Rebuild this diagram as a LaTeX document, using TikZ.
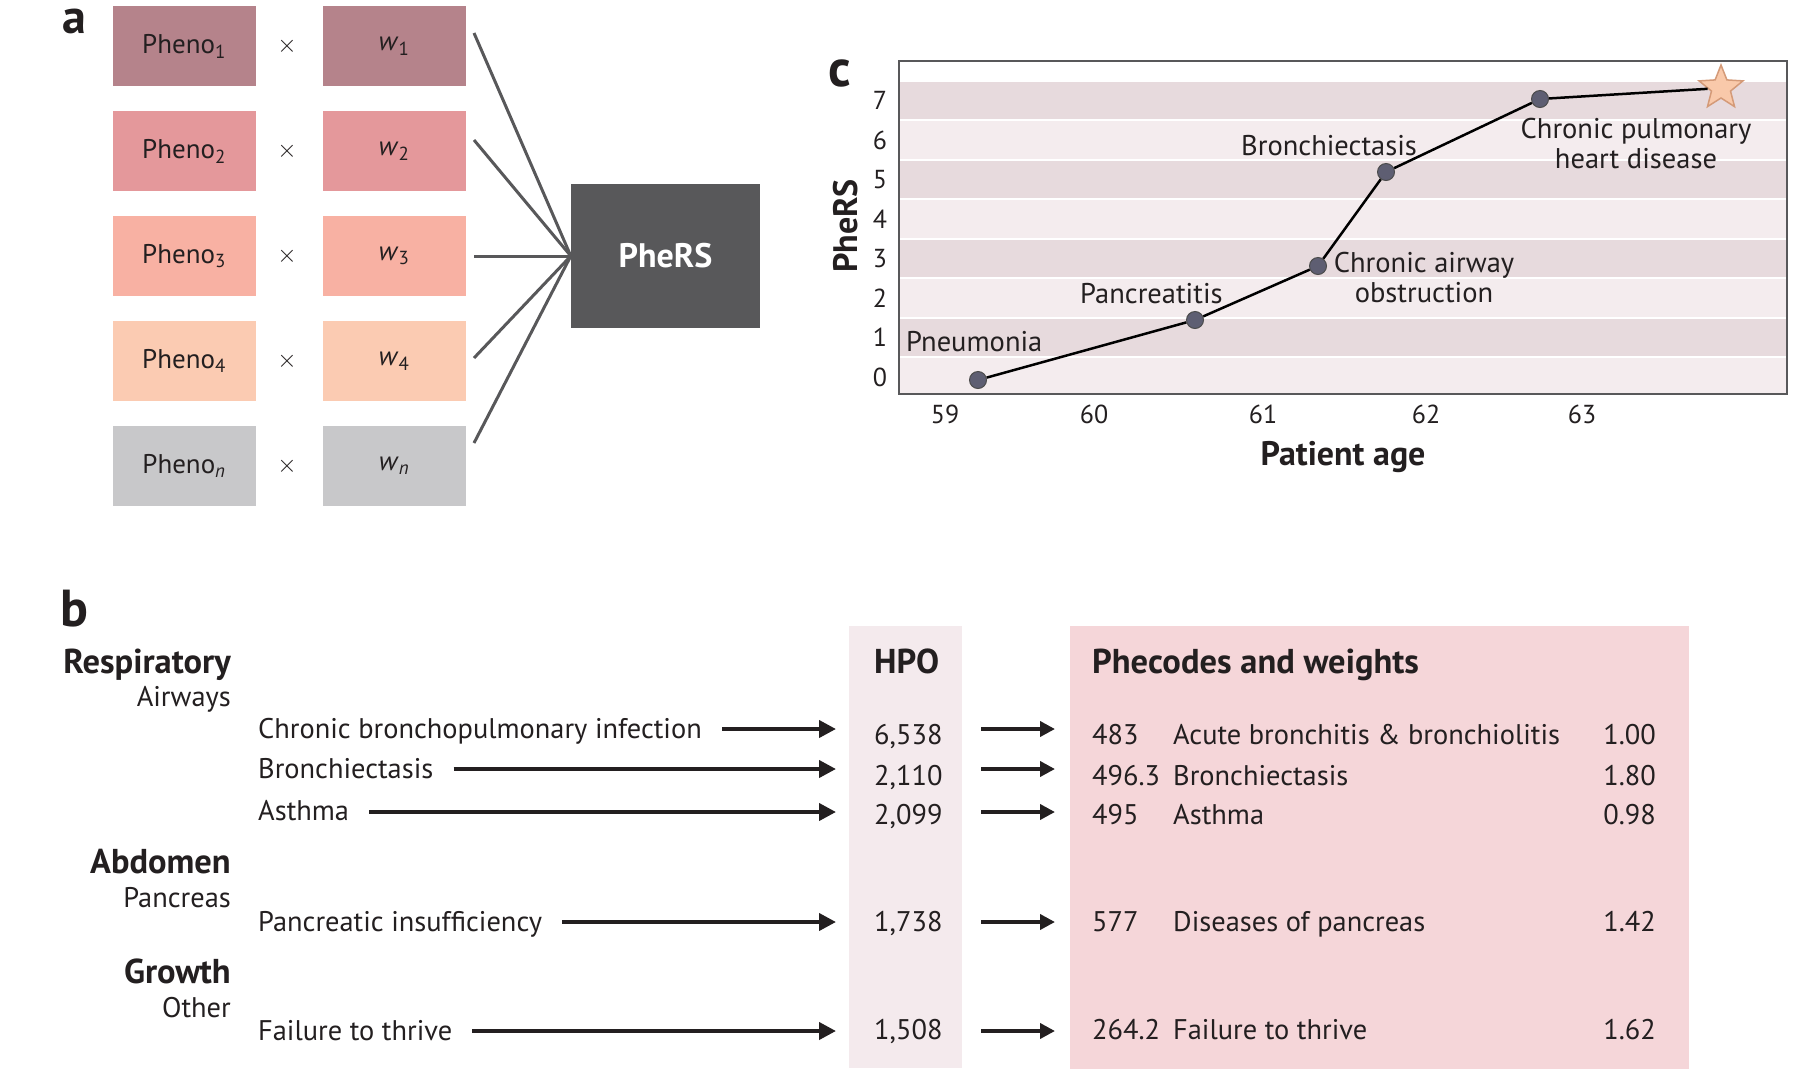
\documentclass[tikz,border=0pt]{standalone}
\usepackage{fontspec}
\setmainfont{PT Sans}
\usetikzlibrary{shapes.geometric,arrows.meta,calc}
\definecolor{ink}{HTML}{231F20}
\definecolor{rowA}{HTML}{B5838B}
\definecolor{rowB}{HTML}{E4989B}
\definecolor{rowC}{HTML}{F8B1A3}
\definecolor{rowD}{HTML}{FBCBB2}
\definecolor{rowE}{HTML}{C8C8CA}
\definecolor{pgray}{HTML}{58585A}
\definecolor{bandD}{HTML}{E7DADD}
\definecolor{bandL}{HTML}{F4ECEE}
\definecolor{hpofill}{HTML}{F4EAED}
\definecolor{phefill}{HTML}{F5D6D9}
\definecolor{dotfill}{HTML}{5E5E72}
\definecolor{starfill}{HTML}{F9C9AA}
\definecolor{stardraw}{HTML}{D49A78}
\begin{document}
\begin{tikzpicture}[x=1pt,y=-1pt,
  every node/.style={text=ink},
  tbox/.style={rectangle,minimum width=143pt,minimum height=80pt,inner sep=0pt,font=\fontsize{27}{31}\selectfont},
  times/.style={font=\fontsize{30}{34}\selectfont},
  fan/.style={draw=pgray,line width=3pt},
  panel/.style={font=\fontsize{52}{56}\selectfont\bfseries,inner sep=0pt},
  lbl/.style={font=\fontsize{28.5}{31}\selectfont,inner sep=0pt},
  tick/.style={font=\fontsize{26}{30}\selectfont,inner sep=0pt},
  axt/.style={font=\fontsize{34}{37}\selectfont\bfseries,inner sep=0pt},
  dot/.style={circle,minimum size=17pt,inner sep=0pt,fill=dotfill,draw=black!70,line width=1pt},
  btxt/.style={font=\fontsize{28.4}{33}\selectfont,inner sep=0pt},
  bhead/.style={font=\fontsize{34.5}{37}\selectfont\bfseries,inner sep=0pt},
  arr/.style={draw=ink,line width=4pt,-{Triangle[length=17pt,width=17pt]}},
  arrs/.style={draw=ink,line width=4pt,-{Triangle[length=15pt,width=15pt]}}
]
\useasboundingbox (0,0) rectangle (1800,1077);

% ---------------- panel a ----------------
\node[panel,anchor=base west,text height=24pt,font=\fontsize{48}{52}\selectfont\bfseries] (la) at (62,33) {a};
\foreach \i/\c/\y/\s in {1/rowA/46/1,2/rowB/151/2,3/rowC/256/3,4/rowD/361/4,5/rowE/466/{\textit{n}}}{
  \node[tbox,fill=\c] (ph\i) at (184,\y) {Pheno\textsubscript{\s}};
  \node[times] (x\i) at (287,\y) {$\times$};
  \node[tbox,fill=\c] (w\i) at (394,\y) {\textit{w}\textsubscript{\s}};
}
\node[rectangle,fill=pgray,minimum width=189pt,minimum height=144pt,inner sep=0pt,
  font=\fontsize{34}{38}\selectfont\bfseries,text=white] (phers) at (665.5,256) {PheRS};
\coordinate (f1) at (474,33);
\coordinate (f2) at (474,140);
\coordinate (f3) at (474,256);
\coordinate (f4) at (474,358);
\coordinate (f5) at (474,443);
\foreach \i in {1,...,5}{\draw[fan] (f\i) -- (phers.west);}

% ---------------- panel c ----------------
\begin{scope}
\clip (899,61) rectangle (1787,394);
\foreach \v in {0,...,7}{
  \pgfmathsetmacro{\ya}{377-39.5*(\v+0.5)+1}
  \pgfmathsetmacro{\yb}{377-39.5*(\v-0.5)-1}
  \pgfmathtruncatemacro{\odd}{mod(\v,2)}
  \ifnum\odd=1
    \fill[bandD] (899,\ya) rectangle (1787,\yb);
  \else
    \fill[bandL] (899,\ya) rectangle (1787,\yb);
  \fi
}
\end{scope}
\draw[draw=pgray,line width=2pt] (899,61) rectangle (1787,394);
\node[panel,anchor=base west,text height=26pt] (lc) at (828,86) {c};
\foreach \v in {0,...,7}{
  \node[tick] (yt\v) at (880,{377-39.5*\v}) {\v};
}
\foreach \t/\x in {59/945,60/1094,61/1263,62/1426,63/1582}{
  \node[tick] (xt\t) at (\x,414) {\t};
}
\node[axt] (xlab) at (1343,457) {Patient age};
\node[axt,rotate=90] (ylab) at (846,226) {PheRS};

\node[dot] (p1) at (978,380) {};
\node[dot] (p2) at (1195,320) {};
\node[dot] (p3) at (1318,266) {};
\node[dot] (p4) at (1386,172) {};
\node[dot] (p5) at (1540,99) {};
\node[star,star points=5,star point ratio=2.3,minimum size=46pt,inner sep=0pt,
  fill=starfill,draw=stardraw,line width=1.5pt] (st) at (1721,88) {};
\draw[line width=2.5pt,black] (p1) -- (p2) -- (p3) -- (p4) -- (p5) -- (st);

\node[lbl,anchor=west] (n1) at (906,342) {Pneumonia};
\node[lbl,anchor=west] (n2) at (1080,294) {Pancreatitis};
\node[lbl,anchor=west] (n4) at (1241,146) {Bronchiectasis};
\node[lbl,align=center,font=\fontsize{28.5}{30}\selectfont] (n3) at (1424,278) {Chronic airway\\obstruction};
\node[lbl,align=center,font=\fontsize{28.5}{30}\selectfont] (n5) at (1636,144) {Chronic pulmonary\\heart disease};

% ---------------- panel b ----------------
\node[panel,anchor=base west] (lb) at (60,626) {b};
\node[bhead,anchor=base east] (cat1) at (231,673) {Respiratory};
\node[btxt,anchor=base east] (sub1) at (231,706) {Airways};
\node[bhead,anchor=base east] (cat2) at (231,873) {Abdomen};
\node[btxt,anchor=base east] (sub2) at (231,907) {Pancreas};
\node[bhead,anchor=base east] (cat3) at (231,983) {Growth};
\node[btxt,anchor=base east] (sub3) at (231,1017) {Other};

\fill[hpofill] (849,626) rectangle (962,1068);
\coordinate (hpoW) at (849,626);
\coordinate (hpoE) at (962,626);
\fill[phefill] (1070,626) rectangle (1689,1069);
\coordinate (pheW) at (1070,626);
\node[bhead,anchor=base west] (hpoh) at (874,673) {HPO};
\node[bhead,anchor=base west] (pheh) at (1092,673) {Phecodes and weights};

\foreach \k/\yi/\yn/\ya/\item/\num/\code/\desc/\wt in {
  1/738/744/729/Chronic bronchopulmonary infection/{6,538}/483/Acute bronchitis \& bronchiolitis/1.00,
  2/778/785/769/Bronchiectasis/{2,110}/496.3/Bronchiectasis/1.80,
  3/820/824/812/Asthma/{2,099}/495/Asthma/0.98,
  4/931/931/922/Pancreatic insufficiency/{1,738}/577/Diseases of pancreas/1.42,
  5/1040/1039/1031/Failure to thrive/{1,508}/264.2/Failure to thrive/1.62}{
  \node[btxt,anchor=base west] (it\k) at (258,\yi) {\item};
  \node[btxt,anchor=base west] (nm\k) at (874,\yn) {\num};
  \node[btxt,anchor=base west] (cd\k) at (1092,\yn) {\code};
  \node[btxt,anchor=base west] (ds\k) at (1173,\yn) {\desc};
  \node[btxt,anchor=base east] (wt\k) at (1656,\yn) {\wt};
  \coordinate (ay\k) at (0,\ya);
  \draw[arr] ($(it\k.east |- ay\k)+(20,0)$) -- ($(hpoW |- ay\k)+(-13,0)$);
  \draw[arrs] ($(hpoE |- ay\k)+(19,0)$) -- ($(pheW |- ay\k)+(-15,0)$);
}
\end{tikzpicture}
\end{document}
